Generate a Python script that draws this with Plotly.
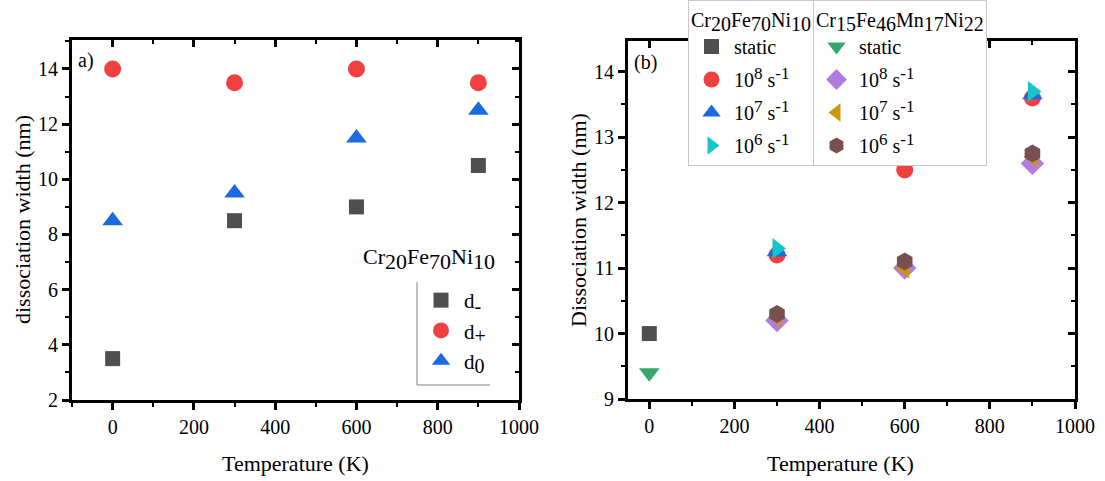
import plotly.graph_objects as go

FONT = "Liberation Serif, Times New Roman, DejaVu Serif, serif"

# ---------------- data: panel a ----------------
temps_a = [0, 300, 600, 900]
d_minus = [3.5, 8.5, 9.0, 10.5]
d_plus = [14.0, 13.5, 14.0, 13.5]
d_zero = [8.5, 9.5, 11.5, 12.5]

# ---------------- data: panel b ----------------
t_static = [0]
t_rates = [300, 600, 900]
t_rates2 = [300, 900]
cfn_static = [10.0]
cfn_1e8 = [11.2, 12.5, 13.6]
cfn_1e7 = [11.25, 13.65]
cfn_1e6 = [11.3, 13.7]
cfmn_static = [9.4]
cfmn_1e8 = [10.2, 11.0, 12.6]
cfmn_1e7 = [10.25, 11.0, 12.7]
cfmn_1e6 = [10.3, 11.1, 12.75]

C_GRAY = "#4f4f4f"
C_RED = "#F04040"
C_BLUE = "#1D6AE0"
C_CYAN = "#12C6CA"
C_GREEN = "#34A868"
C_PURPLE = "#B07CDF"
C_GOLD = "#CC960A"
C_BROWN = "#7A4F4F"


def big_sub(t, px):
    return f"<sub><span style='font-size:{px}px'>{t}</span></sub>"


def big_sup(t, px):
    return f"<sup><span style='font-size:{px}px'>{t}</span></sup>"


def rate(n):
    return f"10{big_sup(n, 17)} s{big_sup('-1', 17)}"


def formula(parts, px):
    return "".join(el + big_sub(n, px) for el, n in parts)


fig = go.Figure()


def sc(x, y, name, sym, color, xa, ya, legend, group, size=16):
    fig.add_trace(go.Scatter(
        x=x, y=y, name=name, mode="markers",
        marker=dict(symbol=sym, color=color, size=size, line=dict(width=0)),
        xaxis=xa, yaxis=ya, legend=legend, legendgroup=group))


# panel a
sc(temps_a, d_minus, "d" + big_sub("-", 20), "square", C_GRAY, "x", "y", "legend", "a1", 15)
sc(temps_a, d_plus, "d" + big_sub("+", 20), "circle", C_RED, "x", "y", "legend", "a2", 17)
sc(temps_a, d_zero, "d" + big_sub("0", 20), "triangle-up", C_BLUE, "x", "y", "legend", "a3", 18)

# panel b - Cr20Fe70Ni10
sc(t_static, cfn_static, "static", "square", C_GRAY, "x2", "y2", "legend2", "b1", 15)
sc(t_rates, cfn_1e8, rate("8"), "circle", C_RED, "x2", "y2", "legend2", "b2", 17)
sc(t_rates2, cfn_1e7, rate("7"), "triangle-up", C_BLUE, "x2", "y2", "legend2", "b3", 18)
sc(t_rates2, cfn_1e6, rate("6"), "triangle-right", C_CYAN, "x2", "y2", "legend2", "b4", 18)
# panel b - Cr15Fe46Mn17Ni22
sc(t_static, cfmn_static, "static", "triangle-down", C_GREEN, "x2", "y2", "legend3", "c1", 18)
sc(t_rates, cfmn_1e8, rate("8"), "diamond", C_PURPLE, "x2", "y2", "legend3", "c2", 18)
sc(t_rates, cfmn_1e7, rate("7"), "triangle-left", C_GOLD, "x2", "y2", "legend3", "c3", 18)
sc(t_rates, cfmn_1e6, rate("6"), "hexagon", C_BROWN, "x2", "y2", "legend3", "c4", 18)

# empty traces so the mirrored tick axes exist
for xa, ya in [("x3", "y"), ("x", "y3"), ("x4", "y2"), ("x2", "y4")]:
    fig.add_trace(go.Scatter(x=[], y=[], xaxis=xa, yaxis=ya, showlegend=False, hoverinfo="skip"))

W, H = 1105, 481


def fx(px):
    return px / W


def fy(py):
    return 1 - py / H


tickfont = dict(family=FONT, size=20, color="black")

xa_dom = [fx(72), fx(519)]
xb_dom = [fx(628), fx(1075)]
ya_dom = [fy(400), fy(40)]
yb_dom = [fy(399), fy(41)]

xr_a = [-100, 1000]
yr_a = [2, 15.05]
xr_b = [-50, 1000]
yr_b = [9, 14.47]


def base_axis(dom, rng, dtick, mdtick, anchor):
    return dict(domain=dom, range=rng, dtick=dtick, tick0=0, anchor=anchor,
                showline=True, linecolor="black", linewidth=3, mirror=True,
                ticks="outside", ticklen=7, tickwidth=3, tickcolor="black",
                minor=dict(ticks="outside", ticklen=4, tickwidth=2, dtick=mdtick, tickcolor="black"),
                showgrid=False, zeroline=False, tickfont=tickfont, automargin=False)


def mirror_axis(rng, dtick, mdtick, anchor, overlay, side):
    return dict(range=rng, dtick=dtick, tick0=0, anchor=anchor, overlaying=overlay, side=side,
                showline=False, ticks="inside", ticklen=7, tickwidth=3, tickcolor="black",
                minor=dict(ticks="inside", ticklen=4, tickwidth=2, dtick=mdtick, tickcolor="black"),
                showgrid=False, zeroline=False, showticklabels=False, automargin=False)


title_cfn = formula([("Cr", "20"), ("Fe", "70"), ("Ni", "10")], 20)
title_cfmn = formula([("Cr", "15"), ("Fe", "46"), ("Mn", "17"), ("Ni", "22")], 20)
title_left = formula([("Cr", "20"), ("Fe", "70"), ("Ni", "10")], 22)

layout = dict(
    width=W, height=H,
    margin=dict(l=0, r=0, t=0, b=0),
    paper_bgcolor="white", plot_bgcolor="white",
    font=dict(family=FONT, size=20, color="black"),
    xaxis=base_axis(xa_dom, xr_a, 200, 100, "y"),
    yaxis=base_axis(ya_dom, yr_a, 2, 1, "x"),
    xaxis2=base_axis(xb_dom, xr_b, 200, 100, "y2"),
    yaxis2=base_axis(yb_dom, yr_b, 1, 0.5, "x2"),
    xaxis3=mirror_axis(xr_a, 200, 100, "y", "x", "top"),
    yaxis3=mirror_axis(yr_a, 2, 1, "x", "y", "right"),
    xaxis4=mirror_axis(xr_b, 200, 100, "y2", "x2", "top"),
    yaxis4=mirror_axis(yr_b, 1, 0.5, "x2", "y2", "right"),
    legend=dict(x=fx(418), y=fy(280), xanchor="left", yanchor="top",
                bgcolor="rgba(0,0,0,0)", borderwidth=0, itemwidth=36,
                font=dict(family=FONT, size=21), tracegroupgap=0),
    legend2=dict(x=fx(688), y=1.0, xanchor="left", yanchor="top",
                 bgcolor="white", bordercolor="#c8c8c8", borderwidth=1, itemwidth=35,
                 font=dict(family=FONT, size=20), tracegroupgap=4,
                 title=dict(text=title_cfn, side="top", font=dict(family=FONT, size=20))),
    legend3=dict(x=fx(813), y=1.0, xanchor="left", yanchor="top",
                 bgcolor="white", bordercolor="#c8c8c8", borderwidth=1, itemwidth=35,
                 font=dict(family=FONT, size=20), tracegroupgap=4,
                 title=dict(text=title_cfmn, side="top", font=dict(family=FONT, size=20))),
    shapes=[
        dict(type="line", xref="paper", yref="paper", x0=fx(417), x1=fx(417), y0=fy(282), y1=fy(385),
             line=dict(color="#808080", width=1)),
        dict(type="line", xref="paper", yref="paper", x0=fx(417), x1=fx(490), y0=fy(385), y1=fy(385),
             line=dict(color="#808080", width=1)),
    ],
    annotations=[
        dict(text=title_left, x=fx(497), y=fy(259), xref="paper", yref="paper",
             xanchor="right", yanchor="middle", showarrow=False, font=dict(family=FONT, size=22)),
        dict(text="a)", x=fx(76), y=fy(60), xref="paper", yref="paper", xanchor="left", yanchor="middle",
             showarrow=False, font=dict(family=FONT, size=20)),
        dict(text="(b)", x=fx(632), y=fy(62), xref="paper", yref="paper", xanchor="left", yanchor="middle",
             showarrow=False, font=dict(family=FONT, size=20)),
        dict(text="Temperature (K)", x=fx(295), y=fy(463), xref="paper", yref="paper",
             xanchor="center", yanchor="middle", showarrow=False, font=dict(family=FONT, size=22)),
        dict(text="Temperature (K)", x=fx(840), y=fy(463), xref="paper", yref="paper",
             xanchor="center", yanchor="middle", showarrow=False, font=dict(family=FONT, size=22)),
        dict(text="dissociation width (nm)", x=fx(22), y=fy(220), xref="paper", yref="paper", textangle=-90,
             xanchor="center", yanchor="middle", showarrow=False, font=dict(family=FONT, size=22)),
        dict(text="Dissociation width (nm)", x=fx(578), y=fy(220), xref="paper", yref="paper", textangle=-90,
             xanchor="center", yanchor="middle", showarrow=False, font=dict(family=FONT, size=22)),
    ],
)
fig.update_layout(**layout)
fig.write_html("out.html", config={"displayModeBar": False},
               post_script="document.body.style.margin='0';document.body.style.overflow='hidden';")
